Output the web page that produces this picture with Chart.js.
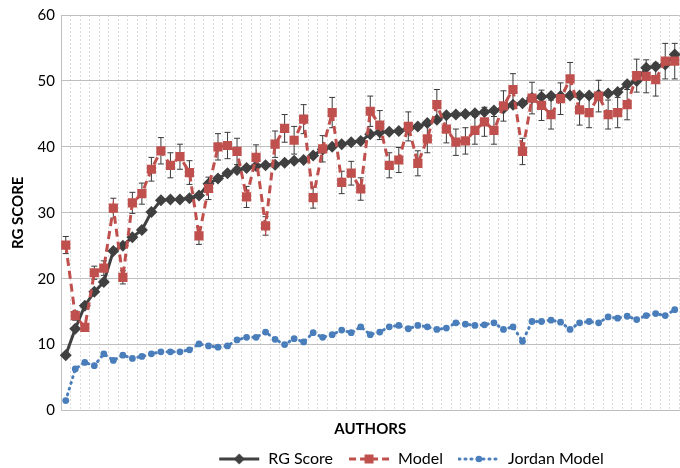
<!DOCTYPE html>
<html>
<head>
<meta charset="utf-8">
<script src="https://cdn.jsdelivr.net/npm/chart.js@4"></script>
<style>
    html, body { margin: 0; padding: 0; background: #fff; overflow: hidden; }
    #cadre { width: 680px; height: 468px; overflow: hidden; }
    #boite { width: 686px; height: 477px; position: relative; }
</style>
</head>
<body>
<div id="cadre"><div id="boite"><canvas id="myChartRg"></canvas></div></div>
<script>
//! Les données.

const auteurs = [
    '1', '2', '3', '4', '5', '6', '7', '8', '9', '10', '11', '12', '13',
    '14', '15', '16', '17', '18', '19', '20', '21', '22', '23', '24', '25', '26',
    '27', '28', '29', '30', '31', '32', '33', '34', '35', '36', '37', '38', '39',
    '40', '41', '42', '43', '44', '45', '46', '47', '48', '49', '50', '51', '52',
    '53', '54', '55', '56', '57', '58', '59', '60', '61', '62', '63', '64', '65'
];

const valeursRgScore = [
    8.4, 12.4, 15.9, 18.0, 19.5, 24.2, 25.0, 26.3, 27.4, 30.1, 31.9, 32.0, 32.0,
    32.2, 32.6, 34.4, 35.2, 36.0, 36.5, 36.8, 37.1, 37.2, 37.3, 37.6, 37.9, 38.0,
    38.7, 39.6, 40.0, 40.4, 40.7, 40.9, 41.9, 42.2, 42.3, 42.4, 42.7, 43.1, 43.6,
    44.1, 44.8, 44.9, 45.0, 45.1, 45.3, 45.5, 45.8, 46.4, 46.6, 47.4, 47.6, 47.7,
    47.7, 47.8, 47.8, 47.8, 47.9, 48.1, 48.3, 49.5, 50.0, 52.0, 52.2, 52.5, 54.0
];

const valeursModel = [
    25.1, 14.4, 12.6, 20.9, 21.6, 30.7, 20.2, 31.5, 32.9, 36.6, 39.4, 37.2, 38.5,
    36.1, 26.5, 33.7, 40.0, 40.2, 39.3, 32.4, 38.4, 28.0, 40.4, 42.8, 41.0, 44.2,
    32.3, 39.7, 45.2, 34.6, 36.0, 33.6, 45.4, 43.3, 37.2, 38.0, 43.1, 37.5, 41.2,
    46.4, 42.7, 40.7, 40.9, 42.5, 43.8, 42.5, 46.2, 48.7, 39.3, 47.4, 46.3, 44.9,
    47.3, 50.3, 45.6, 45.2, 47.7, 44.9, 45.2, 46.4, 50.8, 50.7, 50.2, 53.0, 53.0
];

// Barres d'erreur du modèle (+/-)
const erreursModel = [
    1.3, 0.7, 0.6, 1.0, 1.1, 1.5, 1.0, 1.6, 1.6, 1.8, 2.0, 1.9, 1.9,
    1.8, 1.3, 1.7, 2.0, 2.0, 2.0, 1.6, 1.9, 1.4, 2.0, 2.1, 2.1, 2.2,
    1.6, 2.0, 2.3, 1.7, 1.8, 1.7, 2.3, 2.2, 1.9, 1.9, 2.2, 1.9, 2.1,
    2.3, 2.1, 2.0, 2.0, 2.1, 2.2, 2.1, 2.3, 2.4, 2.0, 2.4, 2.3, 2.2,
    2.4, 2.5, 2.3, 2.3, 2.4, 2.2, 2.3, 2.3, 2.5, 2.5, 2.5, 2.7, 2.7
];

const valeursJordan = [
    1.5, 6.3, 7.3, 6.8, 8.6, 7.6, 8.4, 7.9, 8.2, 8.6, 8.9, 8.9, 8.9,
    9.2, 10.1, 9.8, 9.6, 9.8, 10.7, 11.1, 11.1, 11.9, 10.8, 10.0, 10.9, 10.4,
    11.8, 11.1, 11.5, 12.2, 11.8, 12.7, 11.5, 11.9, 12.7, 12.9, 12.4, 12.9, 12.7,
    12.3, 12.5, 13.3, 13.1, 12.9, 13.0, 13.3, 12.3, 12.7, 10.5, 13.5, 13.5, 13.7,
    13.4, 12.3, 13.3, 13.5, 13.3, 14.2, 14.0, 14.3, 13.8, 14.4, 14.7, 14.4, 15.3
];

const ticksY = [0, 10, 20, 30, 40, 50, 60];

//! --------------------------------------------------

//? Couleurs et polices.

const couleurRg = '#404040';
const couleurModel = '#C0504D';
const couleurJordan = '#4A7EBB';
const police = 'Lato, "Liberation Sans", sans-serif';

//? -------------------------------------------------

//? Petites images pour la légende (trait + marqueur).

const imageLegende = (couleur, tirets, forme) => {
    const c = document.createElement('canvas');
    c.width = 42;
    c.height = 14;
    const ctx = c.getContext('2d');
    ctx.strokeStyle = couleur;
    ctx.lineWidth = 3;
    ctx.lineCap = forme === 'circle' ? 'round' : 'butt';
    ctx.setLineDash(tirets);
    ctx.beginPath();
    ctx.moveTo(1, 7);
    ctx.lineTo(41, 7);
    ctx.stroke();
    ctx.setLineDash([]);
    ctx.fillStyle = couleur;
    ctx.beginPath();
    if (forme === 'rectRot') {
        ctx.moveTo(21, 1.5); ctx.lineTo(26.5, 7); ctx.lineTo(21, 12.5); ctx.lineTo(15.5, 7);
    } else if (forme === 'rect') {
        ctx.rect(16.5, 2.5, 9, 9);
    } else {
        ctx.arc(21, 7, 3.3, 0, Math.PI * 2);
    }
    ctx.closePath();
    ctx.fill();
    return c;
};

//? -------------------------------------------------

//? Plugin barres d'erreur (dessinées juste avant la courbe du modèle).

const pluginBarresErreur = {
    id: 'barresErreur',
    beforeDatasetDraw(chart, args) {
        if (args.index !== 1) return;
        const ctx = chart.ctx;
        const echelleY = chart.scales.y;
        ctx.save();
        ctx.strokeStyle = '#3a3a3a';
        ctx.lineWidth = 1;
        args.meta.data.forEach((point, i) => {
            const haut = echelleY.getPixelForValue(valeursModel[i] + erreursModel[i]);
            const bas = echelleY.getPixelForValue(valeursModel[i] - erreursModel[i]);
            ctx.beginPath();
            ctx.moveTo(point.x, haut);
            ctx.lineTo(point.x, bas);
            ctx.moveTo(point.x - 3, haut);
            ctx.lineTo(point.x + 3, haut);
            ctx.moveTo(point.x - 3, bas);
            ctx.lineTo(point.x + 3, bas);
            ctx.stroke();
        });
        ctx.restore();
    }
};

//? Plugin décalage de la légende (dans l'original elle est poussée vers la droite).

const pluginDecalageLegende = {
    id: 'decalageLegende',
    afterLayout(chart) {
        if (!chart.legend) return;
        chart.legend.left += 68;
        chart.legend.right += 68;
    }
};

//? -------------------------------------------------

//? Construction du graphique.

const ctxRg = document.getElementById('myChartRg').getContext('2d');

const data = {
    labels: auteurs,
    datasets: [
        {
            label: 'RG Score',
            data: valeursRgScore,
            borderColor: couleurRg,
            backgroundColor: couleurRg,
            borderWidth: 3,
            pointStyle: 'rectRot',
            pointRadius: 6,
            pointBorderWidth: 0,
            tension: 0,
            order: 1,
        },
        {
            label: 'Model',
            data: valeursModel,
            borderColor: couleurModel,
            backgroundColor: couleurModel,
            borderWidth: 3,
            borderDash: [8, 5],
            pointStyle: 'rect',
            pointRadius: 6.5,
            pointBorderWidth: 0,
            tension: 0,
            order: 0,
        },
        {
            label: 'Jordan Model',
            data: valeursJordan,
            borderColor: couleurJordan,
            backgroundColor: couleurJordan,
            borderWidth: 3,
            borderDash: [1, 5],
            borderCapStyle: 'round',
            pointStyle: 'circle',
            pointRadius: 3.4,
            pointBorderWidth: 0,
            tension: 0,
            order: 2,
        },
    ],
};

const imagesLegende = [
    imageLegende(couleurRg, [], 'rectRot'),
    imageLegende(couleurModel, [7, 4], 'rect'),
    imageLegende(couleurJordan, [1, 5], 'circle'),
];

const options = {
    responsive: true,
    maintainAspectRatio: false,
    animation: { duration: 0 },
    layout: { padding: { top: 14, right: 0, bottom: 0, left: 0 } },
    plugins: {
        tooltip: { enabled: false },
        legend: {
            position: 'bottom',
            labels: {
                usePointStyle: true,
                pointStyleWidth: 42,
                boxHeight: 14,
                padding: 15,
                color: '#000',
                font: { family: police, size: 16 },
                generateLabels: (chart) => chart.data.datasets.map((ds, i) => ({
                    text: ds.label,
                    pointStyle: imagesLegende[i],
                    fillStyle: ds.backgroundColor,
                    strokeStyle: ds.borderColor,
                    lineWidth: 0,
                    hidden: false,
                    datasetIndex: i,
                })),
            },
        },
    },
    scales: {
        x: {
            type: 'category',
            offset: true,
            afterFit: (echelle) => {
                echelle.height = 25.5;
            },
            grid: { display: true, offset: true, color: '#dcdcdc', lineWidth: 1, drawTicks: false },
            border: { display: true, color: '#bfbfbf', dash: [2, 2] },
            ticks: { display: false },
            title: {
                display: true,
                text: 'AUTHORS',
                color: '#000',
                font: { family: police, size: 15, weight: 'bold' },
                padding: { top: 0, bottom: -2 },
            },
        },
        y: {
            min: 0,
            max: 60,
            afterBuildTicks: (echelle) => {
                echelle.ticks = ticksY.map((v) => ({ value: v }));
            },
            afterFit: (echelle) => {
                echelle.width = 61;
            },
            grid: { color: '#bfbfbf', lineWidth: 1, drawTicks: false },
            border: { display: true, color: '#bfbfbf' },
            ticks: {
                color: '#000',
                padding: 6,
                font: { family: police, size: 15 },
            },
            title: {
                display: true,
                text: 'RG SCORE',
                color: '#000',
                font: { family: police, size: 15, weight: 'bold' },
                padding: { top: 9, bottom: 2 },
            },
        },
    },
};

new Chart(ctxRg, {
    type: 'line',
    data,
    options,
    plugins: [pluginBarresErreur, pluginDecalageLegende],
});
</script>
</body>
</html>
